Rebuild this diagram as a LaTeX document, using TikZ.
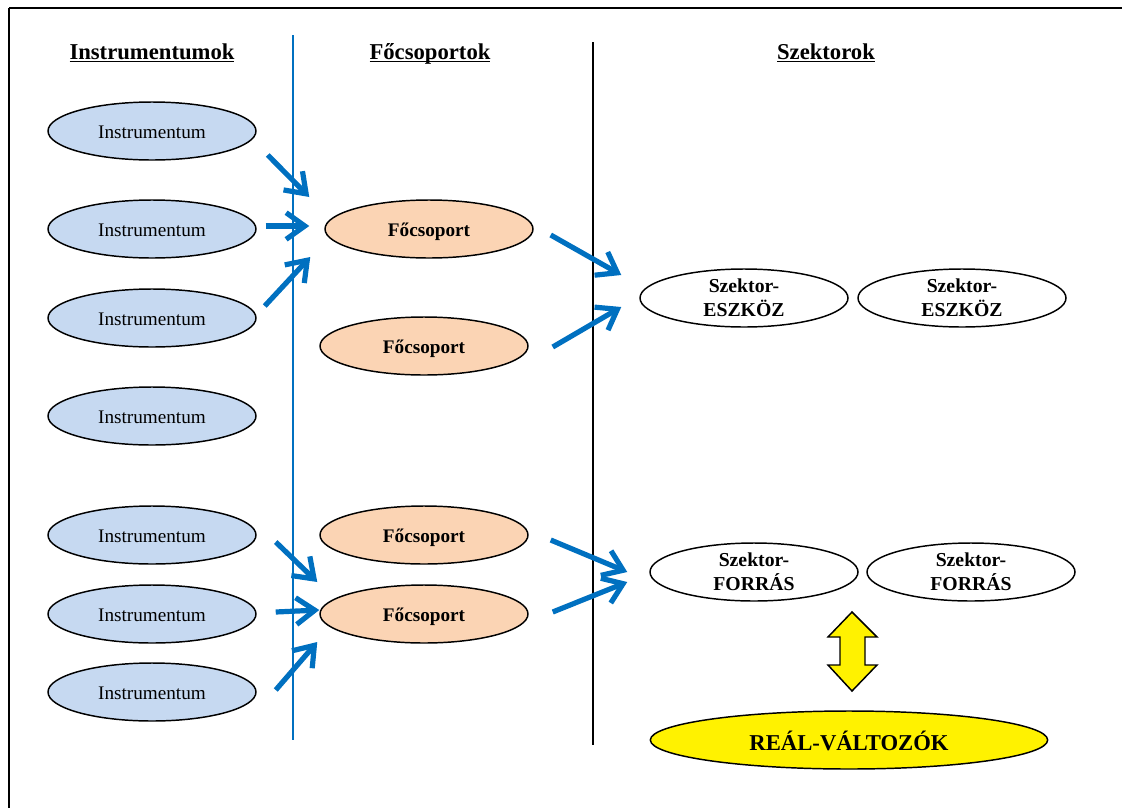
\documentclass[tikz,border=0pt]{standalone}
\usepackage{fontspec}
\setmainfont{Liberation Serif}
\usepackage{tikz}
\usetikzlibrary{shapes.geometric,arrows.meta}

\definecolor{instrblue}{HTML}{C6D9F1}
\definecolor{grouporange}{HTML}{FBD4B4}
\definecolor{flowblue}{HTML}{0070C0}

\begin{document}
\begin{tikzpicture}[x=0.75pt,y=-0.75pt,
                    base node/.style={ellipse, draw, line width=1.1pt, inner sep=0pt,
                                      minimum width=156pt, minimum height=43.5pt},
                    one line/.style={text height=12pt, text depth=1pt},
                    instr node/.style={base node, one line, fill=instrblue,
                                       font=\fontsize{14.4}{17}\selectfont},
                    group node/.style={base node, one line, fill=grouporange,
                                       font=\fontsize{14.4}{17}\selectfont\bfseries},
                    sector node/.style={base node, fill=white, align=center,
                                        font=\fontsize{14.8}{18}\selectfont\bfseries},
                    real node/.style={base node, fill=yellow, minimum width=298pt,
                                      text height=15.5pt, text depth=0.5pt,
                                      font=\fontsize{17}{20}\selectfont\bfseries},
                    head node/.style={anchor=base, font=\fontsize{17}{20}\selectfont\bfseries},
                    flow arrow/.style={draw=flowblue, line width=3.9pt,
                                       -{Straight Barb[length=14pt,width=20pt]}}]

    \useasboundingbox (0,0) rectangle (1122,808);

    % frame
    \draw[line width=1.6pt] (9,8) -- (1122,8);
    \draw[line width=1pt] (9,8) -- (9,808);

    % column separators
    \draw[flowblue, line width=1.1pt] (293,35) -- (293,740);
    \draw[line width=1.3pt] (593,42) -- (593,745);

    % column headings
    \node[head node] (h1) at (152,59) {\underline{\smash{Instrumentumok}}};
    \node[head node] (h2) at (430,59) {\underline{\smash{Főcsoportok}}};
    \node[head node] (h3) at (826,59) {\underline{\smash{Szektorok}}};

    % instruments
    \node[instr node] (i1) at (152,131) {Instrumentum};
    \node[instr node] (i2) at (152,229) {Instrumentum};
    \node[instr node] (i3) at (152,318) {Instrumentum};
    \node[instr node] (i4) at (152,416) {Instrumentum};
    \node[instr node] (i5) at (152,535) {Instrumentum};
    \node[instr node] (i6) at (152,614) {Instrumentum};
    \node[instr node] (i7) at (152,692) {Instrumentum};

    % main groups
    \node[group node] (f1) at (429,229) {Főcsoport};
    \node[group node] (f2) at (424,346) {Főcsoport};
    \node[group node] (f3) at (424,535) {Főcsoport};
    \node[group node] (f4) at (424,614) {Főcsoport};

    % sectors
    \node[sector node] (e1) at (744,298) {Szektor-\\ESZKÖZ};
    \node[sector node] (e2) at (962,298) {Szektor-\\ESZKÖZ};
    \node[sector node] (s1) at (754,572) {Szektor-\\FORRÁS};
    \node[sector node] (s2) at (971,572) {Szektor-\\FORRÁS};

    \node[real node] (real) at (849,740) {REÁL-VÁLTOZÓK};

    % flows
    \draw[flow arrow] ([shift={(11,24)}]i1.east) -- ([shift={(-15,-32)}]f1.west);
    \draw[flow arrow] ([shift={(9,-3)}]i2.east) -- ([shift={(-15,-3)}]f1.west);
    \draw[flow arrow] ([shift={(8,-12)}]i3.east) -- ([shift={(-14,28)}]f1.west);
    \draw[flow arrow] ([shift={(17,6)}]f1.east) -- ([shift={(-18,-23)}]e1.west);
    \draw[flow arrow] ([shift={(24,1)}]f2.east) -- ([shift={(-18,9)}]e1.west);

    \draw[flow arrow] ([shift={(19,7)}]i5.east) -- ([shift={(-2,-32)}]f4.west);
    \draw[flow arrow] ([shift={(19,-2)}]i6.east) -- ([shift={(0,-4)}]f4.west);
    \draw[flow arrow] ([shift={(19,-2)}]i7.east) -- ([shift={(-2,28)}]f4.west);
    \draw[flow arrow] ([shift={(22,5)}]f3.east) -- ([shift={(-22,0)}]s1.west);
    \draw[flow arrow] ([shift={(24,-2)}]f4.east) -- ([shift={(-22,10)}]s1.west);

    % two-way block arrow
    \coordinate (ud) at (852,651);
    \draw[fill=yellow, line width=1.1pt]
        ([shift={(0,-39)}]ud) -- ++(25,25) -- ++(-12,0) -- ++(0,28) -- ++(12,0)
        -- ++(-25,26) -- ++(-24,-26) -- ++(12,0) -- ++(0,-28) -- ++(-12,0) -- cycle;
\end{tikzpicture}
\end{document}
